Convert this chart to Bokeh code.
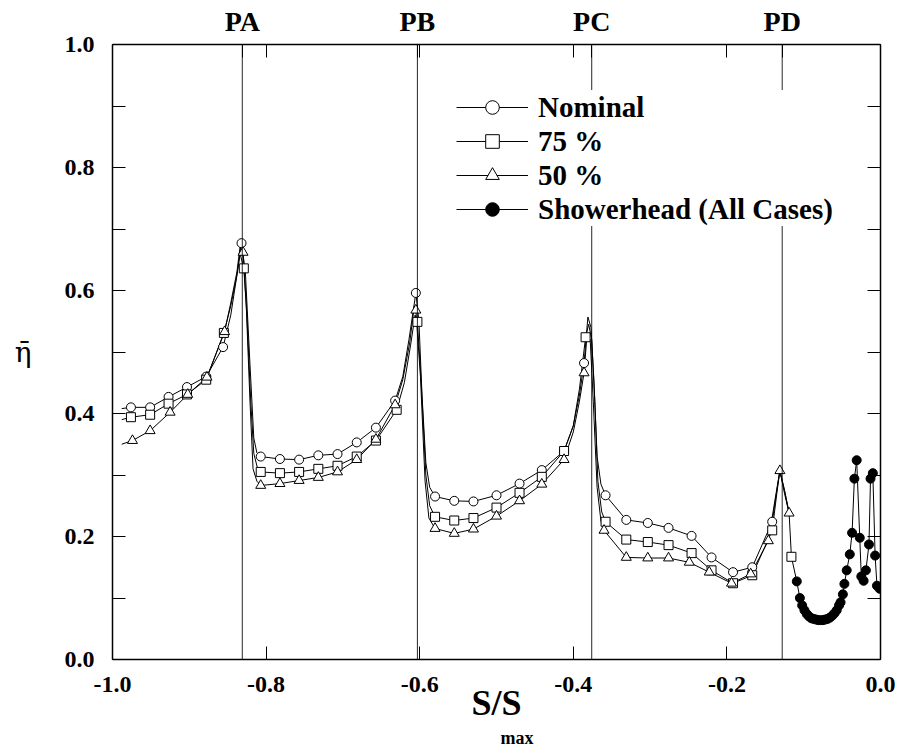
from bokeh.plotting import figure
from bokeh.models import (Range1d, LinearAxis, FixedTicker, PrintfTickFormatter,
                          Span, Legend, LegendItem, Title)
from bokeh.embed import file_html
from bokeh.resources import INLINE

# ---------------- data ----------------
# vertical reference positions (S/Smax) and their names
ref_x = [-0.831, -0.603, -0.376, -0.128]
ref_names = ["PA", "PB", "PC", "PD"]

# Nominal : marker points
nom_x = [-0.976, -0.951, -0.927, -0.903, -0.878, -0.856, -0.832,
         -0.807, -0.782, -0.757, -0.732, -0.707, -0.682, -0.657, -0.632, -0.605,
         -0.580, -0.555, -0.530, -0.500, -0.470, -0.441, -0.412, -0.386,
         -0.358, -0.331, -0.303, -0.276, -0.246, -0.220, -0.192, -0.167, -0.141]
nom_y = [0.410, 0.410, 0.427, 0.443, 0.460, 0.508, 0.677,
         0.330, 0.326, 0.325, 0.332, 0.334, 0.353, 0.377, 0.421, 0.596,
         0.265, 0.258, 0.257, 0.267, 0.286, 0.308, 0.339, 0.482,
         0.267, 0.227, 0.222, 0.214, 0.201, 0.166, 0.142, 0.150, 0.224]
# Nominal : traced curve
nom_line_x = [-0.988, -0.976, -0.951, -0.927, -0.903, -0.878, -0.856, -0.846, -0.838, -0.832,
              -0.827, -0.821, -0.816, -0.812,
              -0.807, -0.782, -0.757, -0.732, -0.707, -0.682, -0.657, -0.632, -0.622, -0.614,
              -0.605, -0.601, -0.597, -0.592, -0.587,
              -0.580, -0.555, -0.530, -0.500, -0.470, -0.441, -0.412, -0.400, -0.392, -0.386,
              -0.381, -0.377, -0.373, -0.369, -0.364,
              -0.358, -0.331, -0.303, -0.276, -0.246, -0.220, -0.192, -0.167, -0.141, -0.135,
              -0.131, -0.125, -0.119]
nom_line_y = [0.408, 0.410, 0.410, 0.427, 0.443, 0.460, 0.508, 0.560, 0.625, 0.677,
              0.630, 0.480, 0.360, 0.336,
              0.330, 0.326, 0.325, 0.332, 0.334, 0.353, 0.377, 0.421, 0.460, 0.520,
              0.596, 0.550, 0.430, 0.320, 0.280,
              0.265, 0.258, 0.257, 0.267, 0.286, 0.308, 0.339, 0.380, 0.430, 0.482,
              0.557, 0.540, 0.450, 0.330, 0.285,
              0.267, 0.227, 0.222, 0.214, 0.201, 0.166, 0.142, 0.150, 0.224, 0.275,
              0.307, 0.275, 0.238]

# 75 % : marker points
sq_x = [-0.976, -0.951, -0.927, -0.903, -0.878, -0.855, -0.829,
        -0.807, -0.782, -0.757, -0.732, -0.707, -0.682, -0.657, -0.630, -0.603,
        -0.580, -0.555, -0.530, -0.500, -0.470, -0.441, -0.412, -0.384,
        -0.358, -0.331, -0.303, -0.276, -0.246, -0.220, -0.192, -0.167, -0.141, -0.116]
sq_y = [0.394, 0.398, 0.416, 0.431, 0.455, 0.531, 0.636,
        0.305, 0.303, 0.305, 0.310, 0.315, 0.330, 0.356, 0.406, 0.549,
        0.232, 0.226, 0.230, 0.247, 0.271, 0.297, 0.339, 0.524,
        0.224, 0.195, 0.191, 0.186, 0.173, 0.145, 0.124, 0.137, 0.210, 0.167]
# 75 % : traced curve
sq_line_x = [-0.988, -0.976, -0.951, -0.927, -0.903, -0.878, -0.855, -0.846, -0.838, -0.834,
             -0.829, -0.825, -0.820, -0.816, -0.811,
             -0.807, -0.782, -0.757, -0.732, -0.707, -0.682, -0.657, -0.630, -0.620, -0.612,
             -0.606, -0.603, -0.598, -0.592, -0.587,
             -0.580, -0.555, -0.530, -0.500, -0.470, -0.441, -0.412, -0.400, -0.392, -0.384,
             -0.380, -0.376, -0.372, -0.368, -0.363,
             -0.358, -0.331, -0.303, -0.276, -0.246, -0.220, -0.192, -0.167, -0.141, -0.135,
             -0.131, -0.125, -0.119, -0.116, -0.109]
sq_line_y = [0.390, 0.394, 0.398, 0.416, 0.431, 0.455, 0.531, 0.575, 0.625, 0.660,
             0.636, 0.560, 0.420, 0.335, 0.310,
             0.305, 0.303, 0.305, 0.310, 0.315, 0.330, 0.356, 0.406, 0.450, 0.510,
             0.560, 0.549, 0.450, 0.300, 0.250,
             0.232, 0.226, 0.230, 0.247, 0.271, 0.297, 0.339, 0.380, 0.440, 0.524,
             0.545, 0.520, 0.420, 0.290, 0.240,
             0.224, 0.195, 0.191, 0.186, 0.173, 0.145, 0.124, 0.137, 0.210, 0.270,
             0.307, 0.275, 0.238, 0.167, 0.127]

# 50 % : marker points
tri_x = [-0.974, -0.951, -0.925, -0.902, -0.877, -0.854, -0.830,
         -0.807, -0.782, -0.757, -0.732, -0.707, -0.682, -0.657, -0.632, -0.605,
         -0.580, -0.555, -0.530, -0.500, -0.470, -0.441, -0.412, -0.386,
         -0.360, -0.331, -0.303, -0.276, -0.249, -0.223, -0.194, -0.169, -0.146, -0.131, -0.119]
tri_y = [0.356, 0.372, 0.402, 0.431, 0.459, 0.533, 0.662,
         0.283, 0.286, 0.291, 0.296, 0.305, 0.325, 0.358, 0.414, 0.568,
         0.213, 0.205, 0.212, 0.233, 0.258, 0.285, 0.325, 0.466,
         0.210, 0.166, 0.165, 0.165, 0.158, 0.142, 0.124, 0.139, 0.193, 0.307, 0.238]
# 50 % : traced curve
tri_line_x = [-0.988, -0.974, -0.951, -0.925, -0.902, -0.877, -0.854, -0.846, -0.838, -0.834,
              -0.830, -0.826, -0.821, -0.817, -0.812,
              -0.807, -0.782, -0.757, -0.732, -0.707, -0.682, -0.657, -0.632, -0.622, -0.613,
              -0.607, -0.605, -0.599, -0.593, -0.588,
              -0.580, -0.555, -0.530, -0.500, -0.470, -0.441, -0.412, -0.400, -0.392, -0.386,
              -0.382, -0.378, -0.374, -0.369, -0.364,
              -0.360, -0.331, -0.303, -0.276, -0.249, -0.223, -0.194, -0.169, -0.146, -0.136,
              -0.131, -0.125, -0.119]
tri_line_y = [0.350, 0.356, 0.372, 0.402, 0.431, 0.459, 0.533, 0.580, 0.630, 0.670,
              0.662, 0.580, 0.420, 0.310, 0.290,
              0.283, 0.286, 0.291, 0.296, 0.305, 0.325, 0.358, 0.414, 0.455, 0.515,
              0.575, 0.568, 0.460, 0.290, 0.230,
              0.213, 0.205, 0.212, 0.233, 0.258, 0.285, 0.325, 0.370, 0.420, 0.466,
              0.530, 0.520, 0.420, 0.280, 0.225,
              0.210, 0.166, 0.165, 0.165, 0.158, 0.142, 0.124, 0.139, 0.193, 0.270,
              0.307, 0.270, 0.238]

# Showerhead (all cases)
sh_x = [-0.109, -0.105, -0.102, -0.099, -0.096, -0.093, -0.090, -0.087, -0.084, -0.081,
        -0.078, -0.075, -0.072, -0.069, -0.066, -0.063, -0.060, -0.057, -0.054, -0.052,
        -0.049, -0.047, -0.044, -0.040, -0.037, -0.034, -0.031, -0.027, -0.025, -0.022,
        -0.019, -0.015, -0.013, -0.010, -0.007, -0.0046, -0.001]
sh_y = [0.127, 0.100, 0.088, 0.080, 0.074, 0.070, 0.067, 0.066, 0.065, 0.064,
        0.064, 0.064, 0.065, 0.066, 0.068, 0.071, 0.075, 0.080, 0.088, 0.093,
        0.106, 0.123, 0.145, 0.171, 0.206, 0.294, 0.324, 0.198, 0.135, 0.128,
        0.145, 0.187, 0.294, 0.303, 0.169, 0.120, 0.115]

x_ticks = [-1.0, -0.8, -0.6, -0.4, -0.2, 0.0]
y_ticks = [0.0, 0.2, 0.4, 0.6, 0.8, 1.0]
y_minor = [0.1, 0.3, 0.5, 0.7, 0.9]

legend_labels = ["Nominal", "75 %", "50 %", "Showerhead (All Cases)"]
x_title = "S/S"
x_title_sub = "max"
y_title = "\u03b7\u0304"

# ---------------- figure ----------------
FONT = "Liberation Serif"

p = figure(width=901, height=747, output_backend="svg", toolbar_location=None,
           x_range=Range1d(-1.0, 0.0), y_range=Range1d(0.0, 1.0),
           x_axis_location=None, y_axis_location=None,
           min_border_left=112, min_border_right=21, min_border_top=44, min_border_bottom=88)
p.xgrid.visible = False
p.ygrid.visible = False
p.outline_line_color = None
p.background_fill_color = "white"
p.border_fill_color = "white"


def make_axis(ticks, minor, overrides=None, size="24px", standoff=18):
    ax = LinearAxis(ticker=FixedTicker(ticks=ticks, minor_ticks=minor),
                    formatter=PrintfTickFormatter(format="%.1f"))
    ax.axis_line_color = "black"
    ax.axis_line_width = 1.5
    ax.major_tick_in = 13
    ax.major_tick_out = 0
    ax.minor_tick_in = 13
    ax.minor_tick_out = 0
    ax.major_tick_line_color = "black"
    ax.minor_tick_line_color = "black"
    ax.major_tick_line_width = 1
    ax.minor_tick_line_width = 1
    ax.major_label_text_font = FONT
    ax.major_label_text_font_style = "bold"
    ax.major_label_text_color = "black"
    ax.major_label_text_font_size = size
    ax.major_label_standoff = standoff
    if overrides is not None:
        ax.major_label_overrides = overrides
    return ax


bottom = make_axis(x_ticks, [], standoff=17)
bottom.axis_label = x_title
bottom.axis_label_text_font = FONT
bottom.axis_label_text_font_style = "bold"
bottom.axis_label_text_font_size = "36px"
bottom.axis_label_text_color = "black"
bottom.axis_label_standoff = -12
p.add_layout(bottom, "below")

# subscript of the x title
sub = Title(text=x_title_sub, align="left", offset=388, standoff=0,
            text_font=FONT, text_font_style="bold", text_font_size="18px",
            text_color="black")
p.add_layout(sub, "below")
p.below = [bottom, sub]

# top axis: carries the station names PA..PD as labels
top_overrides = {t: "" for t in x_ticks}
top_overrides.update({xv: nm for xv, nm in zip(ref_x, ref_names)})
top = make_axis(x_ticks + ref_x, [], overrides=top_overrides, size="28px", standoff=8)
p.add_layout(top, "above")

left = make_axis(y_ticks, y_minor, standoff=18)
left.axis_label = y_title
left.axis_label_text_font = "DejaVu Serif"
left.axis_label_text_font_style = "normal"
left.axis_label_text_font_size = "28px"
left.axis_label_text_color = "black"
left.axis_label_standoff = 30
try:
    left.axis_label_orientation = "horizontal"
except Exception:
    pass
p.add_layout(left, "left")

right = make_axis(y_ticks, y_minor, overrides={t: "" for t in y_ticks}, standoff=0)
p.add_layout(right, "right")

# vertical reference lines
for xv in ref_x:
    p.add_layout(Span(location=xv, dimension="height", line_color="black",
                      line_width=1, line_alpha=0.85))

# series
l_nom = p.line(nom_line_x, nom_line_y, line_color="black", line_width=1)
l_sq = p.line(sq_line_x, sq_line_y, line_color="black", line_width=1)
l_tri = p.line(tri_line_x, tri_line_y, line_color="black", line_width=1)
l_sh = p.line(sh_x, sh_y, line_color="black", line_width=1)

m_nom = p.scatter(nom_x, nom_y, marker="circle", size=9, fill_color="white",
                  line_color="black", line_width=1)
m_sq = p.scatter(sq_x, sq_y, marker="square", size=9, fill_color="white",
                 line_color="black", line_width=1)
m_tri = p.scatter(tri_x, tri_y, marker="triangle", size=10, fill_color="white",
                  line_color="black", line_width=1)
m_sh = p.scatter(sh_x, sh_y, marker="circle", size=9, fill_color="black",
                 line_color="black", line_width=1)

legend = Legend(items=[
    LegendItem(label=legend_labels[0], renderers=[l_nom, m_nom]),
    LegendItem(label=legend_labels[1], renderers=[l_sq, m_sq]),
    LegendItem(label=legend_labels[2], renderers=[l_tri, m_tri]),
    LegendItem(label=legend_labels[3], renderers=[l_sh, m_sh]),
], location=(344, 433))
legend.label_text_font = FONT
legend.label_text_font_style = "bold"
legend.label_text_font_size = "29px"
legend.label_text_color = "black"
legend.glyph_width = 72
legend.glyph_height = 34
legend.label_height = 34
legend.label_standoff = 10
legend.spacing = 0
legend.padding = 0
legend.margin = 0
legend.border_line_color = None
legend.background_fill_color = "white"
legend.background_fill_alpha = 1.0
p.add_layout(legend, "center")

open("out.html", "w").write(file_html(p, INLINE))
